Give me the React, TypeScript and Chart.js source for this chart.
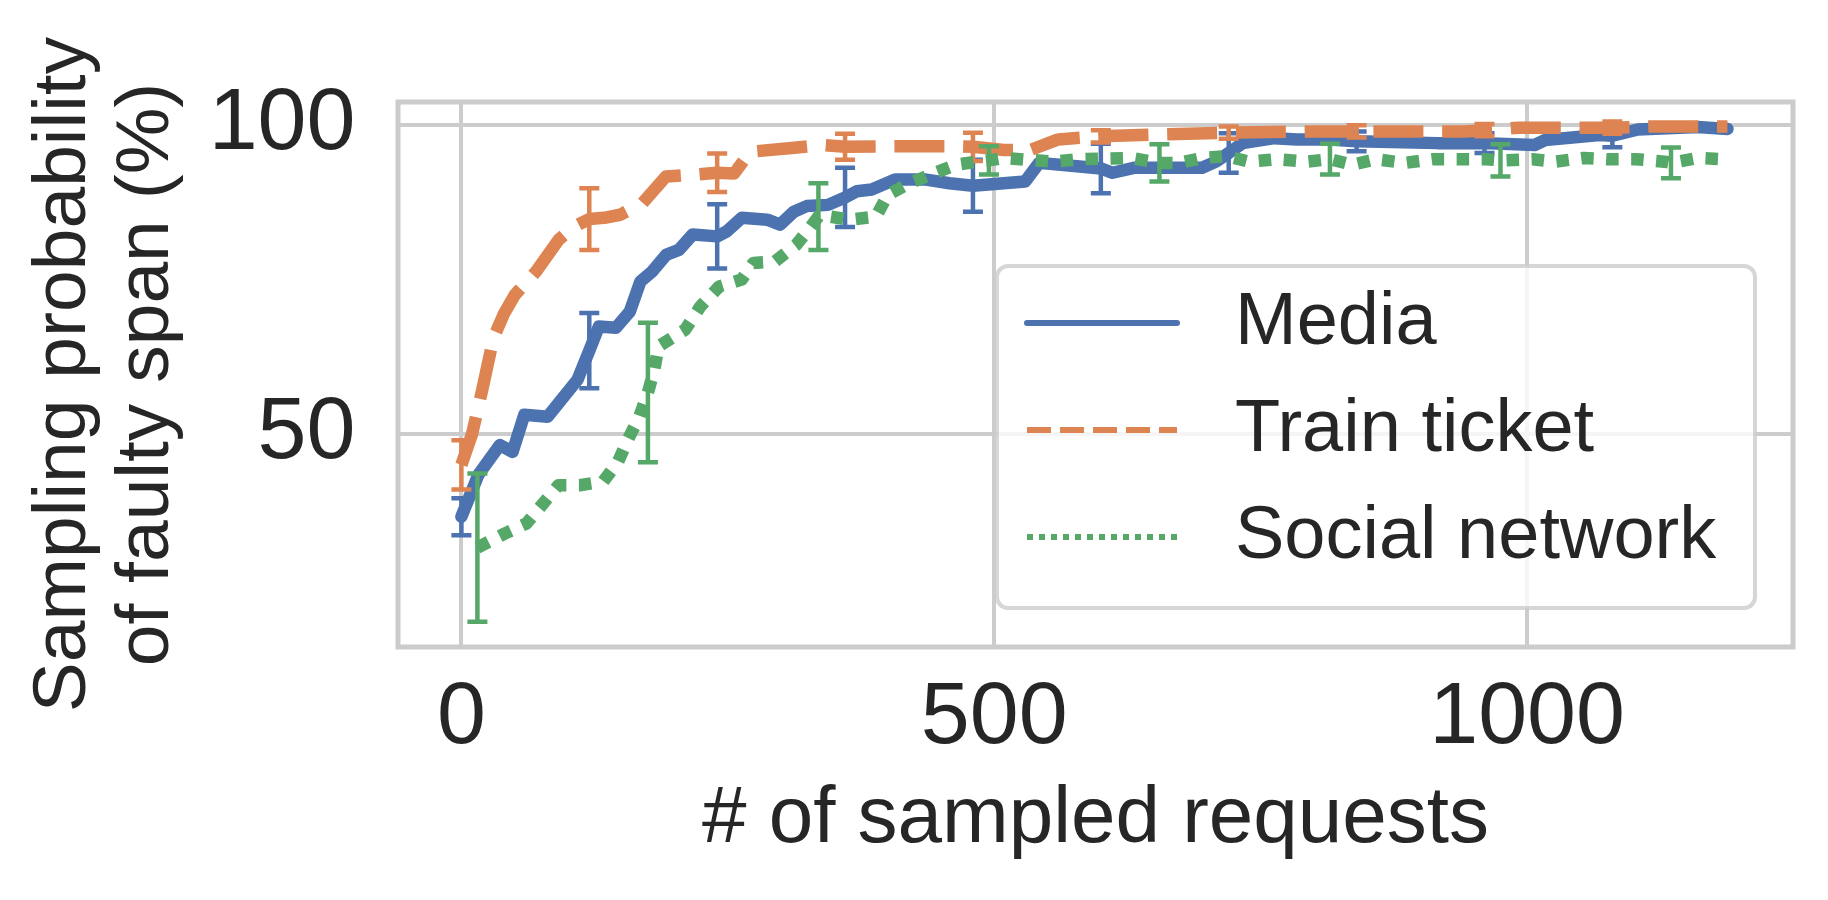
import React, { useEffect, useRef } from "react";
import { Chart, registerables } from "chart.js";

Chart.register(...registerables);

const FONT = "'Liberation Sans', Arial, Helvetica, sans-serif";
const TEXT = "#262626";
const GRID = "#cccccc";

// ---------- data ----------
const seriesNames = ["Media", "Train ticket", "Social network"];
const seriesColors = ["#4C72B0", "#DD8452", "#55A868"];

const mediaX = [0, 16, 36, 48, 59, 81, 109, 120, 129, 145, 158, 168, 179, 192, 204, 217, 240, 249, 263, 287, 299, 312, 324, 344, 360, 371, 385, 407, 436, 458, 480, 529, 542, 580, 600, 611, 631, 695, 708, 720, 733, 763, 784, 814, 840, 916, 960, 1007, 1017, 1068, 1080, 1104, 1160, 1188];
const mediaY = [36.6, 43.4, 48.2, 47.1, 53.1, 52.8, 58.8, 63.5, 67.4, 67.2, 69.8, 74.7, 76.3, 79.0, 79.8, 82.3, 82.0, 82.8, 85.0, 84.7, 83.9, 86.0, 86.9, 87.1, 88.3, 89.3, 89.6, 91.2, 91.2, 90.6, 90.2, 90.9, 93.9, 93.3, 93.0, 92.3, 93.1, 93.1, 94.1, 95.5, 97.1, 97.9, 97.7, 97.7, 97.4, 97.1, 97.1, 96.8, 97.6, 98.4, 98.3, 99.3, 99.7, 99.4];
const mediaErrX = [0, 120, 240, 360, 480, 600, 720, 840, 960, 1080];
const mediaErr = [3.0, 6.1, 5.2, 4.8, 4.2, 4.0, 3.2, 1.6, 1.6, 1.85];

const trainX = [0, 10, 20, 30, 40, 50, 70, 91, 105, 120, 134, 149, 170, 192, 220, 240, 256, 271, 310, 339, 360, 418, 454, 480, 509, 534, 560, 600, 652, 720, 804, 840, 860, 941, 960, 992, 1058, 1080, 1119, 1188];
const trainY = [45.0, 50.0, 57.5, 65.5, 69.5, 72.5, 76.3, 81.4, 83.5, 84.8, 85.0, 85.5, 87.4, 91.7, 92.0, 92.3, 92.2, 95.7, 96.3, 96.8, 96.5, 96.6, 96.6, 96.5, 96.0, 96.0, 97.7, 98.2, 98.5, 98.8, 99.0, 99.0, 99.0, 99.0, 99.2, 99.6, 99.6, 99.6, 99.8, 99.8];
const trainErrX = [0, 120, 240, 360, 480, 600, 720, 840, 960, 1080];
const trainErr = [4.0, 5.0, 3.1, 2.1, 2.3, 1.0, 1.0, 1.0, 1.0, 1.0];

const socialX = [15, 41, 61, 77, 91, 111, 133, 147, 156, 167, 175, 181, 185, 210, 224, 242, 263, 274, 294, 314, 328, 335, 346, 364, 389, 400, 418, 443, 464, 480, 495, 509, 555, 580, 628, 655, 674, 695, 718, 739, 766, 793, 815, 836, 858, 885, 912, 961, 975, 1005, 1026, 1053, 1075, 1102, 1129, 1135, 1160, 1183];
const socialY = [31.6, 33.9, 35.5, 38.8, 41.7, 41.7, 42.3, 45.5, 49.0, 52.8, 56.7, 60.4, 64.2, 66.9, 70.6, 73.9, 75.0, 77.7, 77.9, 80.6, 83.6, 85.2, 85.2, 84.7, 85.2, 88.7, 90.4, 92.2, 93.6, 94.0, 94.3, 94.7, 94.1, 94.5, 94.7, 93.9, 93.9, 94.7, 95.0, 94.1, 94.5, 94.1, 94.5, 93.6, 94.5, 93.9, 94.5, 94.5, 94.3, 94.5, 94.1, 94.7, 94.5, 94.5, 94.1, 93.9, 94.7, 94.5];
const socialErrX = [15, 175, 335, 495, 655, 815, 975, 1135];
const socialErr = [12.0, 11.3, 5.4, 2.3, 3.0, 2.5, 2.6, 2.5];

const xTicks = [0, 500, 1000];
const yTicks = [50, 100];
const xLabel = "# of sampled requests";
const yLabel = ["Sampling probability", "of faulty span (%)"];

// ---------- helpers ----------
const seriesX = [mediaX, trainX, socialX];
const seriesY = [mediaY, trainY, socialY];
const errX = [mediaErrX, trainErrX, socialErrX];
const errV = [mediaErr, trainErr, socialErr];

const LW = 12.5;
const lineDash = [[], [4 * LW, 1.5 * LW], [LW, LW]];
const legendDash = [[], [24, 9], [6, 6]];

const toPoints = (xs: number[], ys: number[]) => xs.map((x, i) => ({ x, y: ys[i] }));

const framePlugin = {
  id: "frame",
  beforeDatasetsDraw(chart: any) {
    const { ctx, chartArea: a } = chart;
    ctx.save();
    ctx.strokeStyle = GRID;
    ctx.lineWidth = 5;
    ctx.strokeRect(a.left, a.top, a.right - a.left, a.bottom - a.top);
    ctx.restore();
  },
};

const errorPlugin = {
  id: "errorbars",
  afterDatasetDraw(chart: any, args: any) {
    const i = args.index;
    const xs = errX[i];
    if (!xs) return;
    const { ctx } = chart;
    const xs_ = chart.scales.x;
    const ys_ = chart.scales.y;
    ctx.save();
    ctx.strokeStyle = seriesColors[i];
    ctx.lineWidth = 4.5;
    ctx.lineCap = "butt";
    ctx.setLineDash([]);
    xs.forEach((x: number, k: number) => {
      const idx = seriesX[i].indexOf(x);
      const c = seriesY[i][idx];
      const e = errV[i][k];
      const px = xs_.getPixelForValue(x);
      const pLo = ys_.getPixelForValue(c - e);
      const pHi = ys_.getPixelForValue(c + e);
      ctx.beginPath();
      ctx.moveTo(px, pLo);
      ctx.lineTo(px, pHi);
      ctx.moveTo(px - 10, pLo);
      ctx.lineTo(px + 10, pLo);
      ctx.moveTo(px - 10, pHi);
      ctx.lineTo(px + 10, pHi);
      ctx.stroke();
    });
    ctx.restore();
  },
};

const legendPlugin = {
  id: "customLegend",
  afterDraw(chart: any) {
    const { ctx, chartArea: a } = chart;
    const right = a.right - 38;
    const bottom = a.bottom - 39;
    const left = right - 758;
    const top = bottom - 342;
    const r = 11;
    ctx.save();
    ctx.beginPath();
    ctx.moveTo(left + r, top);
    ctx.lineTo(right - r, top);
    ctx.arcTo(right, top, right, top + r, r);
    ctx.lineTo(right, bottom - r);
    ctx.arcTo(right, bottom, right - r, bottom, r);
    ctx.lineTo(left + r, bottom);
    ctx.arcTo(left, bottom, left, bottom - r, r);
    ctx.lineTo(left, top + r);
    ctx.arcTo(left, top, left + r, top, r);
    ctx.closePath();
    ctx.fillStyle = "rgba(255,255,255,0.8)";
    ctx.fill();
    ctx.strokeStyle = "rgba(204,204,204,0.8)";
    ctx.lineWidth = 4;
    ctx.stroke();

    seriesNames.forEach((name, i) => {
      const y = top + 57 + i * 107;
      ctx.beginPath();
      ctx.strokeStyle = seriesColors[i];
      ctx.lineWidth = 6;
      ctx.lineCap = i === 0 ? "round" : "butt";
      ctx.setLineDash(legendDash[i]);
      ctx.moveTo(left + 30, y);
      ctx.lineTo(left + 180, y);
      ctx.stroke();
      ctx.setLineDash([]);
      ctx.fillStyle = TEXT;
      ctx.font = `74px ${FONT}`;
      ctx.textAlign = "left";
      ctx.textBaseline = "middle";
      ctx.fillText(name, left + 238, y + 1);
    });
    ctx.restore();
  },
};

export default function App() {
  const ref = useRef<HTMLCanvasElement | null>(null);

  useEffect(() => {
    document.body.style.margin = "0";
    const canvas = ref.current;
    if (!canvas) return;

    const datasets = seriesNames.map((name, i) => ({
      label: name,
      data: toPoints(seriesX[i], seriesY[i]),
      borderColor: seriesColors[i],
      backgroundColor: seriesColors[i],
      borderWidth: LW,
      borderDash: lineDash[i],
      borderCapStyle: i === 0 ? "round" : "butt",
      borderJoinStyle: "round",
      pointRadius: 0,
      pointHoverRadius: 0,
      showLine: true,
      tension: 0,
      fill: false,
      order: 3 - i,
    }));

    const chart = new Chart(canvas, {
      type: "scatter",
      data: { datasets } as any,
      options: {
        animation: false,
        responsive: false,
        devicePixelRatio: 1,
        layout: { padding: { left: 0, top: 102, right: 35, bottom: 0 } },
        plugins: { legend: { display: false }, tooltip: { enabled: false } },
        scales: {
          x: {
            type: "linear",
            min: -59.5,
            max: 1249.5,
            afterBuildTicks: (s: any) => {
              s.ticks = xTicks.map((v) => ({ value: v }));
            },
            afterFit: (s: any) => {
              s.height = 253;
            },
            grid: { color: GRID, lineWidth: 4, drawTicks: false },
            border: { display: false },
            ticks: {
              color: TEXT,
              font: { family: FONT, size: 88, lineHeight: 1.2 },
              padding: 19,
              maxRotation: 0,
              minRotation: 0,
              autoSkip: false,
              callback: (v: any) => String(v),
            },
            title: {
              display: true,
              text: xLabel,
              color: TEXT,
              font: { family: FONT, size: 80, lineHeight: 1.2 },
              padding: { top: 0, bottom: 32 },
            },
          },
          y: {
            type: "linear",
            min: 15.5,
            max: 103.76,
            afterBuildTicks: (s: any) => {
              s.ticks = yTicks.map((v) => ({ value: v }));
            },
            afterFit: (s: any) => {
              s.width = 398;
            },
            grid: { color: GRID, lineWidth: 4, drawTicks: false },
            border: { display: false },
            ticks: {
              color: TEXT,
              font: { family: FONT, size: 88, lineHeight: 1.2 },
              padding: 42.5,
              autoSkip: false,
              callback: (v: any) => String(v),
            },
            title: {
              display: true,
              text: yLabel,
              color: TEXT,
              font: { family: FONT, size: 75, lineHeight: 83 / 75 },
              padding: { top: 22.5, bottom: 0 },
            },
          },
        },
      } as any,
      plugins: [framePlugin, errorPlugin, legendPlugin],
    });

    return () => chart.destroy();
  }, []);

  return (
    <div style={{ width: 1828, height: 900 }}>
      <canvas ref={ref} width={1828} height={900} style={{ display: "block" }} />
    </div>
  );
}
